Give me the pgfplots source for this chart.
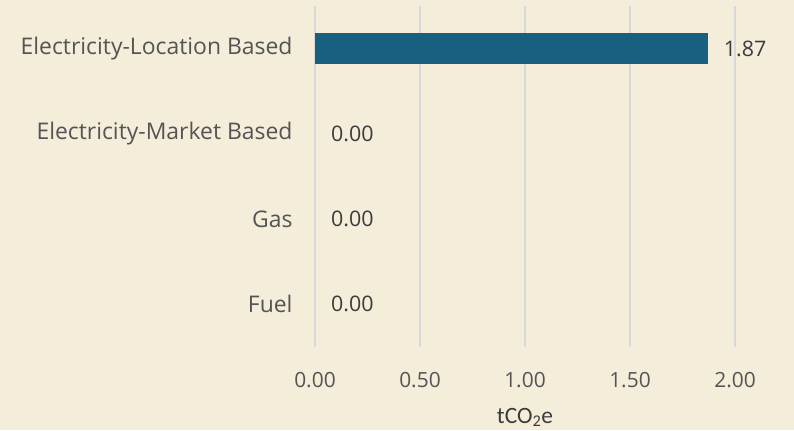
\documentclass[border=0pt]{standalone}
\usepackage{pgfplots}
\pgfplotsset{compat=1.18}
\usepackage{fontspec}
\setmainfont{Open Sans}
\newfontfamily\calibri{Carlito}
\definecolor{bg}{RGB}{244,237,218}
\definecolor{barc}{RGB}{23,96,128}
\definecolor{gridc}{RGB}{216,216,218}
\definecolor{txt}{RGB}{84,84,84}
\definecolor{lbl}{RGB}{60,60,60}
\begin{document}
\begin{tikzpicture}[x=1bp,y=1bp]
\fill[bg] (0,0) rectangle (794,430);
\useasboundingbox (0,0) rectangle (794,430);
\begin{axis}[
  at={(315bp,83bp)}, anchor=south west,
  scale only axis, width=420bp, height=341bp,
  xbar, bar width=31bp, bar shift=0pt,
  xmin=0, xmax=2, ymin=-0.5, ymax=3.5,
  xtick={0,0.5,1,1.5,2},
  ytick={0,1,2,3},
  yticklabels={Fuel,Gas,Electricity-Market Based,Electricity-Location Based},
  axis line style={draw=none},
  major tick length=0pt,
  xmajorgrids, grid style={gridc, line width=1.2bp},
  xticklabel style={/pgf/number format/.cd, fixed, fixed zerofill, precision=2, /tikz/.cd, text=txt, font=\fontsize{21}{24}\selectfont, yshift=-22bp},
  yticklabel style={text=txt, font=\fontsize{23}{26}\selectfont, xshift=-19bp},
  /pgf/number format/assume math mode=true,
  nodes near coords,
  nodes near coords style={/pgf/number format/.cd, fixed, fixed zerofill, precision=2, /tikz/.cd, text=lbl, font=\fontsize{21.5}{24}\selectfont, anchor=west, inner sep=0pt, xshift=16bp},
  xlabel={\calibri tCO\textsubscript{2}e},
  xlabel style={font=\fontsize{23.5}{26}\selectfont, text=lbl, yshift=-13bp},
]
\addplot[fill=barc, draw=none] coordinates {(1.87,3)};
\addplot[fill=none, draw=none] coordinates {(0,0) (0,1) (0,2)};
\end{axis}
\end{tikzpicture}
\end{document}
